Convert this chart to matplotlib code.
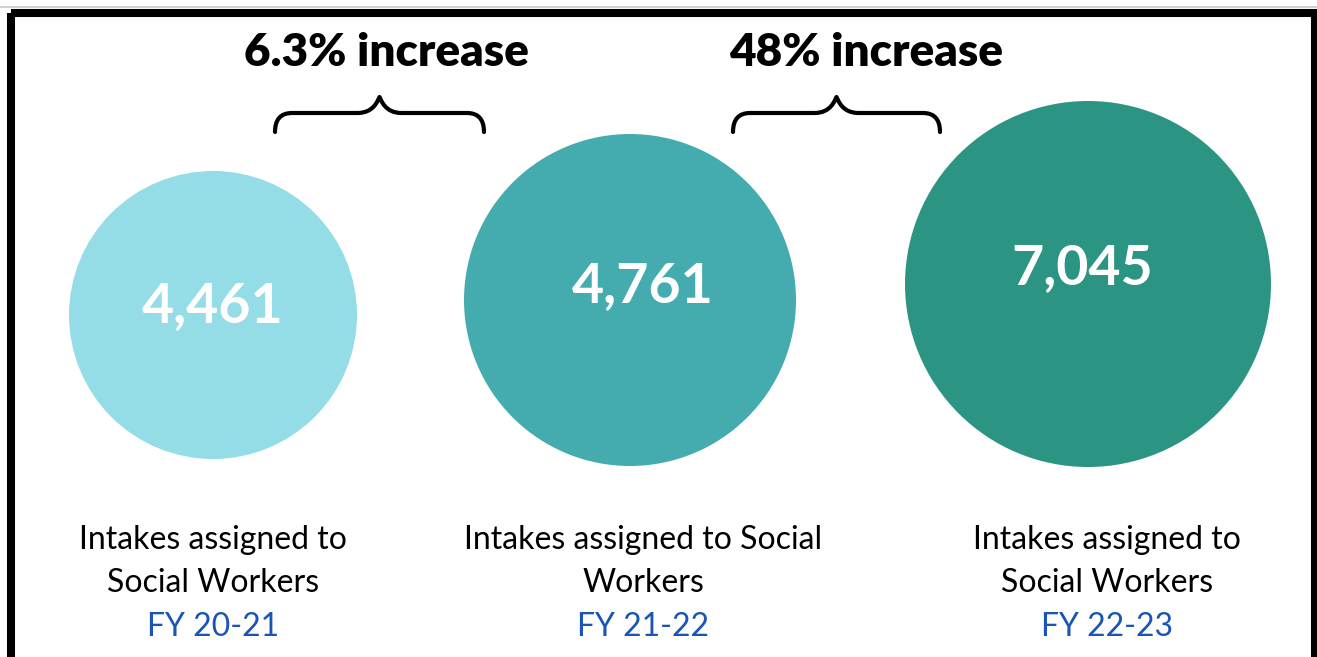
import matplotlib.pyplot as plt
from matplotlib.patches import Circle, PathPatch, Rectangle
from matplotlib.path import Path

# intake counts per fiscal year
years = ["FY 20-21", "FY 21-22", "FY 22-23"]
intakes = [4461, 4761, 7045]
captions = [["Intakes assigned to", "Social Workers"],
            ["Intakes assigned to Social", "Workers"],
            ["Intakes assigned to", "Social Workers"]]
changes = ["6.3% increase", "48% increase"]

# layout (pixels)
centers = [(213, 315), (630, 300), (1088, 284)]
radii = [144, 166, 183]
number_pos = [(213, 306), (643, 286), (1082, 268)]
caption_x = [213, 643, 1107]
colors = ["#94dde6", "#44acae", "#2b9482"]
brace_spans = [(275, 484), (733, 940)]
header_x = [386, 866]

plt.rcParams['font.family'] = ['Lato', 'DejaVu Sans']

fig = plt.figure(figsize=(13.17, 6.57), dpi=100)
ax = fig.add_axes([0, 0, 1, 1])
ax.set_xlim(0, 1317)
ax.set_ylim(657, 0)
ax.axis("off")

# frame
ax.plot([0, 1317], [7, 7], color="#c8c8c8", lw=1.2)
ax.add_patch(Rectangle((11, 12.5), 1304, 700, fill=False, ec="black", lw=5.8))


def brace(x0, x1, y_base=132, y_mid=113, y_tip=97):
    xm = (x0 + x1) / 2
    r = 17
    verts = [(x0, y_base), (x0, y_mid), (x0 + r, y_mid),
             (xm - 22, y_mid),
             (xm - 6, y_mid), (xm - 2, y_tip + 4), (xm, y_tip),
             (xm + 2, y_tip + 4), (xm + 6, y_mid), (xm + 22, y_mid),
             (x1 - r, y_mid),
             (x1, y_mid), (x1, y_base)]
    codes = [Path.MOVETO, Path.CURVE3, Path.CURVE3,
             Path.LINETO,
             Path.CURVE4, Path.CURVE4, Path.CURVE4,
             Path.CURVE4, Path.CURVE4, Path.CURVE4,
             Path.LINETO,
             Path.CURVE3, Path.CURVE3]
    ax.add_patch(PathPatch(Path(verts, codes), fill=False, lw=3,
                           ec="black", capstyle="round", joinstyle="round"))


for (x0, x1), hx, label in zip(brace_spans, header_x, changes):
    brace(x0, x1)
    ax.text(hx, 52, label, ha="center", va="center",
            fontsize=33, fontweight="heavy", color="black")

for (cx, cy), r, (tx, ty), val, col in zip(centers, radii, number_pos, intakes, colors):
    ax.add_patch(Circle((cx, cy), r, color=col, ec="none"))
    ax.text(tx, ty, f"{val:,}", ha="center", va="center",
            fontsize=40, fontweight="bold", color="white")

for x, cap, yr in zip(caption_x, captions, years):
    ax.text(x, 540, cap[0], ha="center", va="center", fontsize=23, color="black")
    ax.text(x, 583, cap[1], ha="center", va="center", fontsize=23, color="black")
    ax.text(x, 627, yr, ha="center", va="center", fontsize=23, color="#1a55b5")

fig.savefig("out.png", dpi=100)
